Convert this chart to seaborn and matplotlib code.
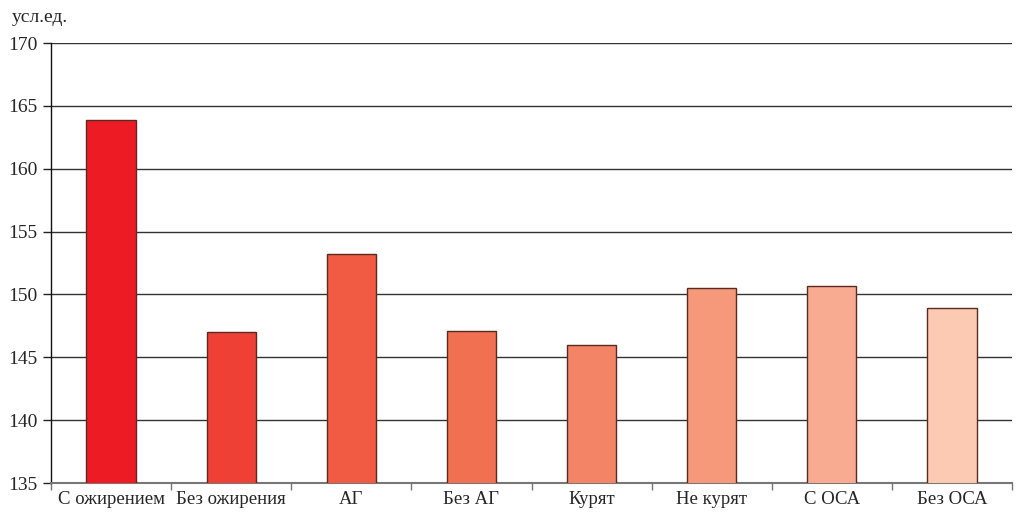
import matplotlib
matplotlib.use("Agg")
import matplotlib.pyplot as plt
import seaborn as sns
import pandas as pd

categories = ["С ожирением", "Без ожирения", "АГ", "Без АГ", "Курят", "Не курят", "С ОСА", "Без ОСА"]
values = [163.9, 147.0, 153.2, 147.1, 146.0, 150.5, 150.7, 148.9]
colors = ["#ED1C24", "#EE4034", "#F15A43", "#F27052", "#F38566", "#F6987A", "#F8AB91", "#FCC9B3"]
yticks = [135, 140, 145, 150, 155, 160, 165, 170]
unit_label = "усл.ед."

sns.set_style("white")
plt.rcParams["font.family"] = ["Liberation Serif", "DejaVu Serif"]

df = pd.DataFrame({"cat": categories, "val": values})

fig = plt.figure(figsize=(10.27, 5.17), dpi=100)
ax = fig.add_axes([51 / 1027, 34 / 517, (1012 - 51) / 1027, (483 - 43) / 517])

sns.barplot(data=df, x="cat", y="val", hue="cat", palette=colors, legend=False,
            saturation=1, width=0.41, edgecolor="#5a2a20", linewidth=1.0, ax=ax, zorder=3)

ax.set_ylim(135, 170)
ax.set_xlim(-0.5, len(categories) - 0.5)
ax.set_yticks(yticks)
ax.set_yticklabels([str(t) for t in yticks], fontsize=14)
ax.set_xticks(range(len(categories)))
ax.set_xticklabels(categories, fontsize=13.5)
ax.tick_params(axis="x", length=0, pad=6)
ax.tick_params(axis="y", length=6, width=1, color="#222222", direction="out", pad=4, left=True)
ax.set_xticks([i - 0.5 for i in range(len(categories) + 1)], minor=True)
ax.tick_params(axis="x", which="minor", length=5, width=1, color="#777777", direction="out", bottom=True)

ax.yaxis.grid(True, color="#333333", linewidth=1.0, zorder=0)
ax.xaxis.grid(False)
ax.set_axisbelow(True)
for s in ["top", "right"]:
    ax.spines[s].set_visible(False)
ax.spines["left"].set_color("#111111")
ax.spines["left"].set_linewidth(1.0)
ax.spines["bottom"].set_color("#777777")
ax.spines["bottom"].set_linewidth(1.5)
ax.set_xlabel("")
ax.set_ylabel("")

fig.text(12 / 1027, 1 - 17 / 517, unit_label, fontsize=14, va="center", ha="left")

fig.savefig("out.png", dpi=100)
